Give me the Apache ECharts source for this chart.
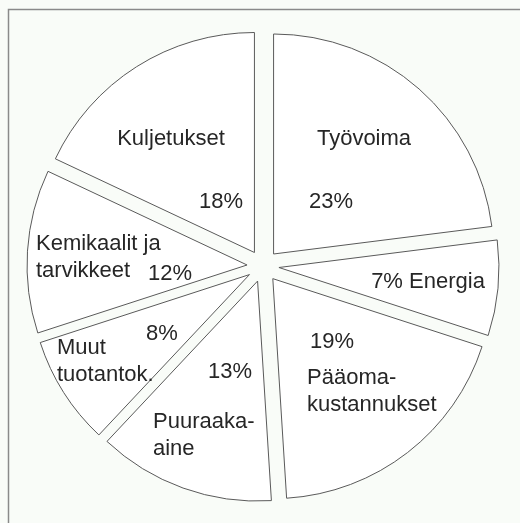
<!DOCTYPE html>
<html>
<head>
<meta charset="utf-8">
<style>
  html, body { margin: 0; padding: 0; background: #f9fcf8; }
  #chart { width: 520px; height: 523px; }
</style>
<script src="https://cdn.jsdelivr.net/npm/echarts@6/dist/echarts.min.js"></script>
</head>
<body>
<div id="chart"></div>
<script>
// Categories (display names, with the original line breaks)
const categories = [
  'Työvoima',
  'Energia',
  'Pääoma-\nkustannukset',
  'Puuraaka-\naine',
  'Muut\ntuotantok.',
  'Kemikaalit ja\ntarvikkeet',
  'Kuljetukset'
];
// Shares in percent
const shares = [23, 7, 19, 13, 8, 12, 18];

// Label layout (offsets from the pie centre, px) - layout only, not data
const CX = 263, CY = 266;
const nameLayout = [
  { dx: 101, dy: -127, align: 'center' },
  { dx: 165, dy: 16, align: 'center' },
  { dx: 44, dy: 125, align: 'left' },
  { dx: -110, dy: 169, align: 'left' },
  { dx: -206, dy: 95, align: 'left' },
  { dx: -227, dy: -9, align: 'left' },
  { dx: -92, dy: -127, align: 'center' }
];
const pctLayout = [
  { dx: 68, dy: -64 },
  null,
  { dx: 69, dy: 76 },
  { dx: -33, dy: 106 },
  { dx: -101, dy: 68 },
  { dx: -93, dy: 8 },
  { dx: -42, dy: -64 }
];

const FONT = 'Liberation Sans, Arial, Helvetica, sans-serif';
const FONT_SIZE = 22;
const TEXT_COLOR = '#262626';

const labelGraphics = [];
categories.forEach((c, i) => {
  const nl = nameLayout[i];
  labelGraphics.push({
    type: 'text',
    silent: true,
    z: 10,
    style: {
      x: CX + nl.dx, y: CY + nl.dy,
      text: i === 1 ? (shares[i] + '% ' + c) : c,
      textAlign: nl.align, textVerticalAlign: 'middle',
      font: FONT_SIZE + 'px ' + FONT, fill: TEXT_COLOR, lineHeight: 27
    }
  });
  const pl = pctLayout[i];
  if (pl) {
    labelGraphics.push({
      type: 'text',
      silent: true,
      z: 10,
      style: {
        x: CX + pl.dx, y: CY + pl.dy,
        text: shares[i] + '%',
        textAlign: 'center', textVerticalAlign: 'middle',
        font: FONT_SIZE + 'px ' + FONT, fill: TEXT_COLOR
      }
    });
  }
});

const chart = echarts.init(document.getElementById('chart'), null, { renderer: 'canvas' });
chart.setOption({
  backgroundColor: '#f9fcf8',
  graphic: [{
    type: 'rect',
    shape: { x: 8.5, y: 9.5, width: 600, height: 600 },
    style: { fill: 'none', stroke: '#8a8a8a', lineWidth: 1.5 },
    silent: true,
    z: -10
  }].concat(labelGraphics),
  series: [{
    type: 'pie',
    center: [CX, CY],
    radius: [0, 220],
    startAngle: 90,
    clockwise: true,
    selectedMode: 'multiple',
    selectedOffset: 16,
    avoidLabelOverlap: false,
    label: { show: false },
    labelLine: { show: false },
    emphasis: { disabled: true },
    animation: false,
    silent: true,
    itemStyle: { color: '#ffffff', borderColor: '#5a5a5a', borderWidth: 1 },
    data: categories.map((c, i) => ({ name: c, value: shares[i], selected: true }))
  }]
});
</script>
</body>
</html>
